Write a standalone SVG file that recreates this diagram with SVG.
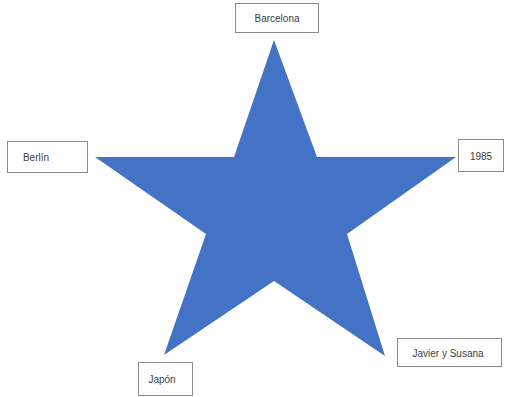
<svg xmlns="http://www.w3.org/2000/svg" width="506" height="397" viewBox="0 0 506 397">
<style>
.box{fill:#fff;stroke:#8c8c8c;stroke-width:1}
.lbl{font-family:"Liberation Sans",Arial,sans-serif;font-size:10px;fill:#404040;text-anchor:middle;dominant-baseline:central}
</style>
<rect width="506" height="397" fill="#fff"/>
<g id="star">
<polygon points="274,40 317,157 456,157 347,234 385,356 274,281 164,355 206,234 95,157 234,157" fill="#4472C4"/>
</g>
<g id="connectors"></g>
<g id="barcelona"><rect class="box" x="235.5" y="3.5" width="83" height="29"/><text class="lbl" x="277" y="18">Barcelona</text></g>
<g id="berlin"><rect class="box" x="7.5" y="141.5" width="80" height="31"/><text class="lbl" x="36" y="157">Berlín</text></g>
<g id="y1985"><rect class="box" x="458.5" y="139.5" width="45" height="32"/><text class="lbl" x="481" y="156">1985</text></g>
<g id="javier"><rect class="box" x="397.5" y="338.5" width="104" height="28"/><text class="lbl" x="448" y="353">Javier y Susana</text></g>
<g id="japon"><rect class="box" x="138.5" y="362.5" width="54" height="33"/><text class="lbl" x="162" y="379">Japón</text></g>
</svg>
